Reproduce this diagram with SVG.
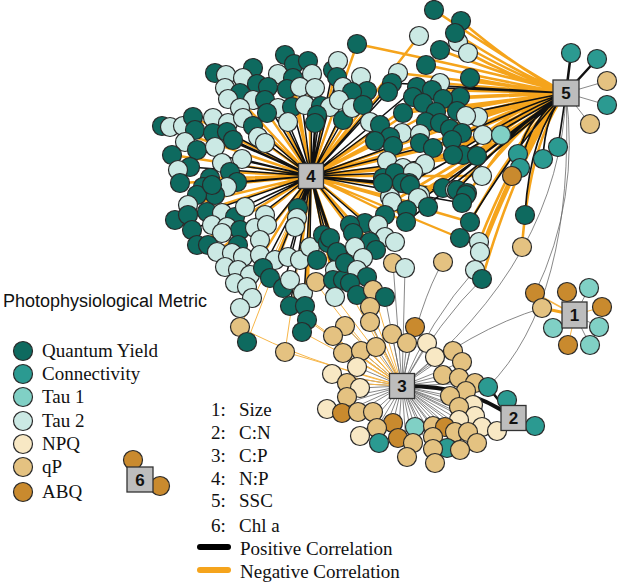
<svg xmlns="http://www.w3.org/2000/svg" width="620" height="585" viewBox="0 0 620 585">
<style>
circle{stroke:#2a2a2a;stroke-width:1.2}
.q{fill:#0e6a5f}.c{fill:#2b9a91}.t1{fill:#80d0c5}.l{fill:#cbe9e4}.np{fill:#f8e8c4}.qp{fill:#e4c281}.ab{fill:#c98a2e}
.hub rect{fill:#bdbdbd;stroke:#333;stroke-width:1.3}
.hub text{font-family:"Liberation Sans",Arial,sans-serif;font-weight:bold;font-size:17px;fill:#111;text-anchor:middle}
.e{fill:none;stroke-linecap:round}
.ok{stroke:#f5a41c}.bk{stroke:#111}.gr{stroke:#6a6a6a}.ol{stroke:#f7b649}
.lg{font-family:"Liberation Serif","Times New Roman",serif;font-size:19px;fill:#111}
</style>
<rect width="620" height="585" fill="#fff"/>
<g id="connectors">
<path class="e gr" stroke-width="0.8" d="M402 386L345 326M402 386L370 323M402 386L415 327M402 386L333 336M402 386L392 334M402 386L407 343M402 386L427 343M402 386L343 353M402 386L361 351M402 386L376 347M402 386L435 357M402 386L453 351M402 386L462 362M402 386L357 367M402 386L332 374M402 386L347 383M402 386L360 388M402 386L443 375M402 386L459 378M402 386L475 383M402 386L466 391M402 386L347 397M402 386L450 396M402 386L473 405M402 386L459 407M402 386L327 409M402 386L342 413M402 386L358 412M402 386L373 412M402 386L459 420M402 386L475 416M402 386L393 423M402 386L415 427M402 386L433 426M402 386L445 427M402 386L482 427M402 386L497 431M402 386L377 428M402 386L360 436M402 386L398 438M402 386L433 437M402 386L455 432M402 386L468 432M402 386L379 443M402 386L413 443M402 386L477 443M402 386L447 448M402 386L460 450M402 386L433 449M402 386L407 457M402 386L435 463M402 386L385 297M402 386L357 295M402 386Q420 300 443 262M402 386Q440 320 482 279M402 386Q430 320 475 270M402 386L405 268M402 386L393 263M566 93Q560 260 402 386M566 93Q580 200 535 293M566 93Q575 300 488 387M542 308Q470 330 402 386M566 93L607 81M566 93L607 105M566 93L590 124M575 315L589 288M575 315L599 327M575 315L590 345M575 315L553 328"/>
<path class="e ol" stroke-width="1" d="M402 386L333 336M402 386L343 353M402 386L332 374M402 386L347 383M402 386L361 351M402 386L370 323M402 386L345 326M402 386Q300 360 240 327M402 386L285 352M402 386L373 290M402 386L370 307M402 386Q340 320 316 282M402 386L302 332M402 386L343 280M402 386L307 320M402 386L290 306M402 386L335 297M575 315L567 292M575 315L602 307M575 315L568 345M311 176L240 327M311 176L285 352M311 176L247 342"/>
<path class="e ok" stroke-width="2.4" d="M311 176L357 44M311 176L419 36M311 176L338 61M311 176L398 73M311 176L440 83M311 176L460 97M311 176L423 103M311 176L478 117M311 176L462 133M311 176L483 135M311 176L433 148M311 176L477 156M311 176L403 168M311 176L482 176M311 176L443 188M311 176L466 195M311 176L428 207M311 176L470 222M311 176L406 222M311 176L460 238M311 176L385 237M311 176L376 250M311 176L343 280M311 176L305 306M311 176L307 320M311 176L300 260M311 176L275 260M311 176L250 275M311 176L238 270M311 176L217 252M311 176L197 245M311 176L175 220M311 176L188 205M311 176L180 183M311 176L172 155M311 176L162 126M311 176L193 117M311 176L215 73M311 176L253 68M311 176L285 55M311 176L308 61M311 176L293 78M311 176L243 78M311 176L228 99M311 176L265 143M311 176L333 280M311 176L230 172M311 176L210 178M311 176L203 187M311 176L367 91M311 176L361 77M311 176L375 141M311 176L390 137M311 176L353 233M311 176L370 242M311 176L337 252"/>
<path class="e bk" stroke-width="1.5" d="M311 176L337 77M311 176L333 70M311 176L312 74M311 176L268 87M311 176L300 87M311 176L321 106M311 176L317 115M311 176L315 123M311 176L343 120M311 176L352 92M311 176L388 92M311 176L392 83M311 176L417 87M311 176L452 140M311 176L463 155M311 176L457 190M311 176L467 193M311 176L462 203M311 176L383 183M311 176L402 183M311 176L410 185M311 176L365 223M311 176L350 225M311 176L330 238M311 176L323 235M311 176L328 243M311 176L338 255M311 176L298 208M311 176L297 218M311 176L295 227M311 176L310 247M311 176L288 257M311 176L260 240M311 176L240 230M311 176L235 217M311 176L207 212M311 176L192 230M311 176L212 185M311 176L237 182M311 176L213 133M311 176L227 132M311 176L233 140M311 176L242 159M311 176L222 163M311 176L197 150M311 176L190 167M311 176L253 126M311 176L258 137M311 176L288 122M311 176L278 108M311 176L292 107M311 176L265 100M311 176L287 89M311 176L263 268M311 176L270 278M311 176L283 288M311 176L290 306M311 176L302 332M311 176L380 125M311 176L393 146M311 176L395 173"/>
<path class="e ok" stroke-width="2.6" d="M566 93Q520 68 434 10M566 93Q520 71 461 21M566 93Q520 75 455 33M566 93Q520 78 458 42M566 93Q520 81 468 53M566 93Q520 80 440 50M566 93Q520 85 426 65M566 93Q520 88 470 78M566 93Q520 90 440 83M566 93Q520 92 432 90M566 93Q520 94 460 97M566 93Q520 95 443 99M566 93Q520 98 457 111M566 93Q520 99 436 112M566 93Q520 100 466 116M566 93Q520 100 478 117M566 93Q520 102 440 123M566 93Q520 104 450 129M566 93Q520 105 462 133M566 93Q520 106 483 135M566 93Q520 106 501 135M566 93Q520 112 463 155M566 93Q520 112 477 156M566 93Q520 118 482 176M566 93Q520 124 466 195M566 93Q520 132 470 222M566 93Q520 138 479 242M566 93Q520 141 480 252M566 93Q520 146 475 270M566 93Q520 149 482 279M566 93Q520 78 357 44M566 93Q520 87 398 73M566 93Q520 99 403 113M566 93Q520 105 420 134M566 93Q520 110 433 148M566 93Q520 114 425 164M566 93Q520 117 413 172M566 93Q520 122 455 190M566 93Q520 125 418 198M566 93Q520 126 392 202M566 93Q520 130 385 215M566 93Q530 139 522 247M566 93Q520 118 512 176"/>
<path class="e bk" stroke-width="1.7" d="M566 93Q520 91 417 87M566 93Q520 90 392 83M566 93Q520 102 426 122M566 93Q520 107 452 140M566 93Q520 112 453 155M566 93Q520 120 409 183M566 93Q520 122 443 188M566 93Q520 122 457 190M566 93Q520 128 407 210M566 93Q520 132 406 222M566 93Q520 137 460 238M566 93Q530 130 525 215M566 93Q530 116 520 168M566 93Q530 111 518 154M566 93Q545 113 543 159M566 93L558 147"/>
<path class="e bk" stroke-width="2.5" d="M566 93L571 53M566 93L597 59M513 418L488 387M513 418L507 400M513 418L535 426"/>
<path class="e bk" stroke-width="4" d="M402 386Q470 385 513 418"/>
<path class="e ok" stroke-width="3" d="M575 315L542 308"/>
<path class="e ol" stroke-width="1.5" d="M575 315L535 293"/>
</g>
<g id="nodes">
<g id="q1"><circle class="q" cx="285" cy="55" r="9.5"/></g>
<g id="q2"><circle class="q" cx="294" cy="64" r="9.5"/></g>
<g id="q3"><circle class="q" cx="308" cy="61" r="9.5"/></g>
<g id="q4"><circle class="q" cx="333" cy="70" r="9.5"/></g>
<g id="q5"><circle class="q" cx="215" cy="73" r="9.5"/></g>
<g id="l1"><circle class="l" cx="226" cy="75" r="9.5"/></g>
<g id="q6"><circle class="q" cx="253" cy="68" r="9.5"/></g>
<g id="l2"><circle class="l" cx="278" cy="74" r="9.5"/></g>
<g id="q7"><circle class="q" cx="293" cy="78" r="9.5"/></g>
<g id="l3"><circle class="l" cx="312" cy="74" r="9.5"/></g>
<g id="l4"><circle class="l" cx="338" cy="61" r="9.5"/></g>
<g id="q8"><circle class="q" cx="337" cy="77" r="9.5"/></g>
<g id="l5"><circle class="l" cx="243" cy="78" r="9.5"/></g>
<g id="q9"><circle class="q" cx="257" cy="84" r="9.5"/></g>
<g id="q10"><circle class="q" cx="268" cy="87" r="9.5"/></g>
<g id="l6"><circle class="l" cx="225" cy="88" r="9.5"/></g>
<g id="q11"><circle class="q" cx="240" cy="93" r="9.5"/></g>
<g id="q12"><circle class="q" cx="287" cy="89" r="9.5"/></g>
<g id="l7"><circle class="l" cx="300" cy="87" r="9.5"/></g>
<g id="l8"><circle class="l" cx="315" cy="88" r="9.5"/></g>
<g id="l9"><circle class="l" cx="343" cy="87" r="9.5"/></g>
<g id="l10"><circle class="l" cx="228" cy="99" r="9.5"/></g>
<g id="l11"><circle class="l" cx="253" cy="100" r="9.5"/></g>
<g id="q13"><circle class="q" cx="265" cy="100" r="9.5"/></g>
<g id="l12"><circle class="l" cx="278" cy="108" r="9.5"/></g>
<g id="q14"><circle class="q" cx="292" cy="107" r="9.5"/></g>
<g id="l13"><circle class="l" cx="305" cy="105" r="9.5"/></g>
<g id="q15"><circle class="q" cx="321" cy="106" r="9.5"/></g>
<g id="l14"><circle class="l" cx="330" cy="107" r="9.5"/></g>
<g id="l15"><circle class="l" cx="240" cy="108" r="9.5"/></g>
<g id="q16"><circle class="q" cx="267" cy="113" r="9.5"/></g>
<g id="q17"><circle class="q" cx="317" cy="115" r="9.5"/></g>
<g id="q18"><circle class="q" cx="343" cy="120" r="9.5"/></g>
<g id="l16"><circle class="l" cx="288" cy="122" r="9.5"/></g>
<g id="q19"><circle class="q" cx="315" cy="123" r="9.5"/></g>
<g id="q20"><circle class="q" cx="162" cy="126" r="9.5"/></g>
<g id="l17"><circle class="l" cx="170" cy="127" r="9.5"/></g>
<g id="l18"><circle class="l" cx="183" cy="126" r="9.5"/></g>
<g id="q21"><circle class="q" cx="193" cy="117" r="9.5"/></g>
<g id="l19"><circle class="l" cx="213" cy="118" r="9.5"/></g>
<g id="q22"><circle class="q" cx="195" cy="130" r="9.5"/></g>
<g id="l20"><circle class="l" cx="228" cy="123" r="9.5"/></g>
<g id="l21"><circle class="l" cx="243" cy="118" r="9.5"/></g>
<g id="q23"><circle class="q" cx="253" cy="126" r="9.5"/></g>
<g id="l22"><circle class="l" cx="258" cy="137" r="9.5"/></g>
<g id="l23"><circle class="l" cx="265" cy="143" r="9.5"/></g>
<g id="q24"><circle class="q" cx="213" cy="133" r="9.5"/></g>
<g id="q25"><circle class="q" cx="227" cy="132" r="9.5"/></g>
<g id="q26"><circle class="q" cx="233" cy="140" r="9.5"/></g>
<g id="l24"><circle class="l" cx="185" cy="142" r="9.5"/></g>
<g id="q27"><circle class="q" cx="197" cy="150" r="9.5"/></g>
<g id="l25"><circle class="l" cx="215" cy="147" r="9.5"/></g>
<g id="q28"><circle class="q" cx="172" cy="155" r="9.5"/></g>
<g id="q29"><circle class="q" cx="190" cy="167" r="9.5"/></g>
<g id="l26"><circle class="l" cx="178" cy="170" r="9.5"/></g>
<g id="l27"><circle class="l" cx="222" cy="163" r="9.5"/></g>
<g id="l28"><circle class="l" cx="242" cy="159" r="9.5"/></g>
<g id="q30"><circle class="q" cx="230" cy="172" r="9.5"/></g>
<g id="q31"><circle class="q" cx="210" cy="178" r="9.5"/></g>
<g id="q32"><circle class="q" cx="203" cy="187" r="9.5"/></g>
<g id="q33"><circle class="q" cx="180" cy="183" r="9.5"/></g>
<g id="q34"><circle class="q" cx="237" cy="182" r="9.5"/></g>
<g id="l29"><circle class="l" cx="227" cy="187" r="9.5"/></g>
<g id="q35"><circle class="q" cx="215" cy="195" r="9.5"/></g>
<g id="q36"><circle class="q" cx="197" cy="195" r="9.5"/></g>
<g id="q37"><circle class="q" cx="434" cy="10" r="9.5"/></g>
<g id="q38"><circle class="q" cx="461" cy="21" r="9.5"/></g>
<g id="l30"><circle class="l" cx="419" cy="36" r="9.5"/></g>
<g id="l31"><circle class="l" cx="458" cy="42" r="9.5"/></g>
<g id="q39"><circle class="q" cx="455" cy="33" r="9.5"/></g>
<g id="l32"><circle class="l" cx="468" cy="53" r="9.5"/></g>
<g id="q40"><circle class="q" cx="440" cy="50" r="9.5"/></g>
<g id="q41"><circle class="q" cx="357" cy="44" r="9.5"/></g>
<g id="q42"><circle class="q" cx="426" cy="65" r="9.5"/></g>
<g id="l33"><circle class="l" cx="398" cy="73" r="9.5"/></g>
<g id="l34"><circle class="l" cx="361" cy="77" r="9.5"/></g>
<g id="q43"><circle class="q" cx="470" cy="78" r="9.5"/></g>
<g id="l35"><circle class="l" cx="440" cy="83" r="9.5"/></g>
<g id="q44"><circle class="q" cx="392" cy="83" r="9.5"/></g>
<g id="q45"><circle class="q" cx="417" cy="87" r="9.5"/></g>
<g id="q46"><circle class="q" cx="432" cy="90" r="9.5"/></g>
<g id="q47"><circle class="q" cx="367" cy="91" r="9.5"/></g>
<g id="q48"><circle class="q" cx="352" cy="92" r="9.5"/></g>
<g id="q49"><circle class="q" cx="388" cy="92" r="9.5"/></g>
<g id="q50"><circle class="q" cx="460" cy="97" r="9.5"/></g>
<g id="l36"><circle class="l" cx="339" cy="100" r="9.5"/></g>
<g id="q51"><circle class="q" cx="413" cy="97" r="9.5"/></g>
<g id="q52"><circle class="q" cx="443" cy="99" r="9.5"/></g>
<g id="l37"><circle class="l" cx="352" cy="108" r="9.5"/></g>
<g id="q53"><circle class="q" cx="363" cy="105" r="9.5"/></g>
<g id="q54"><circle class="q" cx="423" cy="103" r="9.5"/></g>
<g id="q55"><circle class="q" cx="457" cy="111" r="9.5"/></g>
<g id="q56"><circle class="q" cx="403" cy="113" r="9.5"/></g>
<g id="q57"><circle class="q" cx="436" cy="112" r="9.5"/></g>
<g id="l38"><circle class="l" cx="478" cy="117" r="9.5"/></g>
<g id="l39"><circle class="l" cx="466" cy="116" r="9.5"/></g>
<g id="l40"><circle class="l" cx="370" cy="122" r="9.5"/></g>
<g id="q58"><circle class="q" cx="380" cy="125" r="9.5"/></g>
<g id="q59"><circle class="q" cx="426" cy="122" r="9.5"/></g>
<g id="q60"><circle class="q" cx="440" cy="123" r="9.5"/></g>
<g id="q61"><circle class="q" cx="450" cy="129" r="9.5"/></g>
<g id="q62"><circle class="q" cx="462" cy="133" r="9.5"/></g>
<g id="l41"><circle class="l" cx="483" cy="135" r="9.5"/></g>
<g id="t1a"><circle class="t1" cx="501" cy="135" r="9.5"/></g>
<g id="l42"><circle class="l" cx="402" cy="133" r="9.5"/></g>
<g id="l43"><circle class="l" cx="420" cy="134" r="9.5"/></g>
<g id="q63"><circle class="q" cx="390" cy="137" r="9.5"/></g>
<g id="q64"><circle class="q" cx="375" cy="141" r="9.5"/></g>
<g id="q65"><circle class="q" cx="393" cy="146" r="9.5"/></g>
<g id="q66"><circle class="q" cx="420" cy="143" r="9.5"/></g>
<g id="q67"><circle class="q" cx="433" cy="148" r="9.5"/></g>
<g id="q68"><circle class="q" cx="452" cy="140" r="9.5"/></g>
<g id="q69"><circle class="q" cx="463" cy="155" r="9.5"/></g>
<g id="q70"><circle class="q" cx="477" cy="156" r="9.5"/></g>
<g id="q71"><circle class="q" cx="453" cy="155" r="9.5"/></g>
<g id="l44"><circle class="l" cx="387" cy="161" r="9.5"/></g>
<g id="l45"><circle class="l" cx="403" cy="168" r="9.5"/></g>
<g id="l46"><circle class="l" cx="425" cy="164" r="9.5"/></g>
<g id="q72"><circle class="q" cx="383" cy="178" r="9.5"/></g>
<g id="q73"><circle class="q" cx="395" cy="173" r="9.5"/></g>
<g id="l47"><circle class="l" cx="413" cy="172" r="9.5"/></g>
<g id="q74"><circle class="q" cx="409" cy="183" r="9.5"/></g>
<g id="l48"><circle class="l" cx="482" cy="176" r="9.5"/></g>
<g id="c1"><circle class="c" cx="518" cy="154" r="9.5"/></g>
<g id="c2"><circle class="c" cx="520" cy="168" r="9.5"/></g>
<g id="a1"><circle class="ab" cx="512" cy="176" r="9.5"/></g>
<g id="q75"><circle class="q" cx="443" cy="188" r="9.5"/></g>
<g id="l49"><circle class="l" cx="455" cy="190" r="9.5"/></g>
<g id="q76"><circle class="q" cx="457" cy="190" r="9.5"/></g>
<g id="q77"><circle class="q" cx="467" cy="193" r="9.5"/></g>
<g id="l50"><circle class="l" cx="420" cy="195" r="9.5"/></g>
<g id="l51"><circle class="l" cx="390" cy="197" r="9.5"/></g>
<g id="c3"><circle class="c" cx="571" cy="53" r="9.5"/></g>
<g id="c4"><circle class="c" cx="597" cy="59" r="9.5"/></g>
<g id="p1"><circle class="qp" cx="607" cy="81" r="9.5"/></g>
<g id="c5"><circle class="c" cx="607" cy="105" r="9.5"/></g>
<g id="p2"><circle class="qp" cx="590" cy="124" r="9.5"/></g>
<g id="c6"><circle class="c" cx="558" cy="147" r="9.5"/></g>
<g id="c7"><circle class="c" cx="543" cy="159" r="9.5"/></g>
<g id="q78"><circle class="q" cx="212" cy="185" r="9.5"/></g>
<g id="l52"><circle class="l" cx="188" cy="205" r="9.5"/></g>
<g id="q79"><circle class="q" cx="207" cy="212" r="9.5"/></g>
<g id="q80"><circle class="q" cx="175" cy="220" r="9.5"/></g>
<g id="q81"><circle class="q" cx="188" cy="215" r="9.5"/></g>
<g id="l53"><circle class="l" cx="222" cy="213" r="9.5"/></g>
<g id="q82"><circle class="q" cx="235" cy="217" r="9.5"/></g>
<g id="l54"><circle class="l" cx="245" cy="207" r="9.5"/></g>
<g id="l55"><circle class="l" cx="265" cy="215" r="9.5"/></g>
<g id="q83"><circle class="q" cx="192" cy="230" r="9.5"/></g>
<g id="l56"><circle class="l" cx="212" cy="225" r="9.5"/></g>
<g id="l57"><circle class="l" cx="227" cy="227" r="9.5"/></g>
<g id="q84"><circle class="q" cx="240" cy="230" r="9.5"/></g>
<g id="l58"><circle class="l" cx="255" cy="228" r="9.5"/></g>
<g id="l59"><circle class="l" cx="267" cy="225" r="9.5"/></g>
<g id="l60"><circle class="l" cx="222" cy="233" r="9.5"/></g>
<g id="q85"><circle class="q" cx="197" cy="245" r="9.5"/></g>
<g id="q86"><circle class="q" cx="208" cy="245" r="9.5"/></g>
<g id="l61"><circle class="l" cx="217" cy="252" r="9.5"/></g>
<g id="q87"><circle class="q" cx="238" cy="245" r="9.5"/></g>
<g id="l62"><circle class="l" cx="260" cy="240" r="9.5"/></g>
<g id="l63"><circle class="l" cx="232" cy="253" r="9.5"/></g>
<g id="l64"><circle class="l" cx="243" cy="257" r="9.5"/></g>
<g id="l65"><circle class="l" cx="260" cy="255" r="9.5"/></g>
<g id="l66"><circle class="l" cx="275" cy="260" r="9.5"/></g>
<g id="l67"><circle class="l" cx="288" cy="257" r="9.5"/></g>
<g id="l68"><circle class="l" cx="300" cy="260" r="9.5"/></g>
<g id="l69"><circle class="l" cx="225" cy="267" r="9.5"/></g>
<g id="l70"><circle class="l" cx="238" cy="270" r="9.5"/></g>
<g id="l71"><circle class="l" cx="250" cy="275" r="9.5"/></g>
<g id="q88"><circle class="q" cx="263" cy="268" r="9.5"/></g>
<g id="q89"><circle class="q" cx="270" cy="278" r="9.5"/></g>
<g id="l72"><circle class="l" cx="235" cy="283" r="9.5"/></g>
<g id="l73"><circle class="l" cx="247" cy="287" r="9.5"/></g>
<g id="l74"><circle class="l" cx="252" cy="298" r="9.5"/></g>
<g id="l75"><circle class="l" cx="240" cy="308" r="9.5"/></g>
<g id="q90"><circle class="q" cx="283" cy="288" r="9.5"/></g>
<g id="l76"><circle class="l" cx="290" cy="280" r="9.5"/></g>
<g id="l77"><circle class="l" cx="303" cy="293" r="9.5"/></g>
<g id="q91"><circle class="q" cx="290" cy="306" r="9.5"/></g>
<g id="q92"><circle class="q" cx="305" cy="306" r="9.5"/></g>
<g id="q93"><circle class="q" cx="307" cy="320" r="9.5"/></g>
<g id="q94"><circle class="q" cx="302" cy="332" r="9.5"/></g>
<g id="q95"><circle class="q" cx="298" cy="208" r="9.5"/></g>
<g id="l78"><circle class="l" cx="297" cy="218" r="9.5"/></g>
<g id="l79"><circle class="l" cx="295" cy="227" r="9.5"/></g>
<g id="l80"><circle class="l" cx="310" cy="247" r="9.5"/></g>
<g id="p3"><circle class="qp" cx="316" cy="282" r="9.5"/></g>
<g id="q96"><circle class="q" cx="323" cy="235" r="9.5"/></g>
<g id="q97"><circle class="q" cx="328" cy="243" r="9.5"/></g>
<g id="q98"><circle class="q" cx="338" cy="255" r="9.5"/></g>
<g id="q99"><circle class="q" cx="317" cy="260" r="9.5"/></g>
<g id="l81"><circle class="l" cx="335" cy="270" r="9.5"/></g>
<g id="q100"><circle class="q" cx="333" cy="280" r="9.5"/></g>
<g id="q101"><circle class="q" cx="343" cy="280" r="9.5"/></g>
<g id="l82"><circle class="l" cx="335" cy="297" r="9.5"/></g>
<g id="p4"><circle class="qp" cx="240" cy="327" r="9.5"/></g>
<g id="q102"><circle class="q" cx="247" cy="342" r="9.5"/></g>
<g id="p5"><circle class="qp" cx="285" cy="352" r="9.5"/></g>
<g id="q103"><circle class="q" cx="383" cy="183" r="9.5"/></g>
<g id="q104"><circle class="q" cx="402" cy="183" r="9.5"/></g>
<g id="q105"><circle class="q" cx="410" cy="185" r="9.5"/></g>
<g id="q106"><circle class="q" cx="466" cy="195" r="9.5"/></g>
<g id="q107"><circle class="q" cx="462" cy="203" r="9.5"/></g>
<g id="l83"><circle class="l" cx="418" cy="198" r="9.5"/></g>
<g id="l84"><circle class="l" cx="392" cy="202" r="9.5"/></g>
<g id="q108"><circle class="q" cx="407" cy="210" r="9.5"/></g>
<g id="q109"><circle class="q" cx="428" cy="207" r="9.5"/></g>
<g id="q110"><circle class="q" cx="385" cy="215" r="9.5"/></g>
<g id="q111"><circle class="q" cx="365" cy="223" r="9.5"/></g>
<g id="q112"><circle class="q" cx="350" cy="225" r="9.5"/></g>
<g id="l85"><circle class="l" cx="378" cy="225" r="9.5"/></g>
<g id="q113"><circle class="q" cx="406" cy="222" r="9.5"/></g>
<g id="q114"><circle class="q" cx="470" cy="222" r="9.5"/></g>
<g id="q115"><circle class="q" cx="525" cy="215" r="9.5"/></g>
<g id="q116"><circle class="q" cx="353" cy="233" r="9.5"/></g>
<g id="l86"><circle class="l" cx="385" cy="237" r="9.5"/></g>
<g id="l87"><circle class="l" cx="395" cy="242" r="9.5"/></g>
<g id="q117"><circle class="q" cx="370" cy="242" r="9.5"/></g>
<g id="q118"><circle class="q" cx="460" cy="238" r="9.5"/></g>
<g id="l88"><circle class="l" cx="479" cy="242" r="9.5"/></g>
<g id="q119"><circle class="q" cx="330" cy="238" r="9.5"/></g>
<g id="q120"><circle class="q" cx="337" cy="252" r="9.5"/></g>
<g id="l89"><circle class="l" cx="355" cy="247" r="9.5"/></g>
<g id="q121"><circle class="q" cx="376" cy="250" r="9.5"/></g>
<g id="l90"><circle class="l" cx="363" cy="258" r="9.5"/></g>
<g id="l91"><circle class="l" cx="480" cy="252" r="9.5"/></g>
<g id="p6"><circle class="qp" cx="522" cy="247" r="9.5"/></g>
<g id="q122"><circle class="q" cx="345" cy="263" r="9.5"/></g>
<g id="l92"><circle class="l" cx="357" cy="270" r="9.5"/></g>
<g id="p7"><circle class="qp" cx="393" cy="263" r="9.5"/></g>
<g id="l93"><circle class="l" cx="405" cy="268" r="9.5"/></g>
<g id="p8"><circle class="qp" cx="443" cy="262" r="9.5"/></g>
<g id="l94"><circle class="l" cx="475" cy="270" r="9.5"/></g>
<g id="q123"><circle class="q" cx="482" cy="279" r="9.5"/></g>
<g id="q124"><circle class="q" cx="367" cy="277" r="9.5"/></g>
<g id="q125"><circle class="q" cx="350" cy="283" r="9.5"/></g>
<g id="q126"><circle class="q" cx="357" cy="295" r="9.5"/></g>
<g id="p9"><circle class="qp" cx="373" cy="290" r="9.5"/></g>
<g id="q127"><circle class="q" cx="385" cy="297" r="9.5"/></g>
<g id="p10"><circle class="qp" cx="370" cy="307" r="9.5"/></g>
<g id="p11"><circle class="qp" cx="370" cy="322" r="9.5"/></g>
<g id="p12"><circle class="qp" cx="345" cy="326" r="9.5"/></g>
<g id="p13"><circle class="qp" cx="333" cy="336" r="9.5"/></g>
<g id="p14"><circle class="qp" cx="392" cy="334" r="9.5"/></g>
<g id="a2"><circle class="ab" cx="415" cy="327" r="9.5"/></g>
<g id="p15"><circle class="qp" cx="407" cy="343" r="9.5"/></g>
<g id="n1"><circle class="np" cx="427" cy="343" r="9.5"/></g>
<g id="p16"><circle class="qp" cx="343" cy="353" r="9.5"/></g>
<g id="p17"><circle class="qp" cx="361" cy="351" r="9.5"/></g>
<g id="p18"><circle class="qp" cx="376" cy="347" r="9.5"/></g>
<g id="n2"><circle class="np" cx="435" cy="357" r="9.5"/></g>
<g id="p19"><circle class="qp" cx="453" cy="351" r="9.5"/></g>
<g id="p20"><circle class="qp" cx="462" cy="362" r="9.5"/></g>
<g id="n3"><circle class="np" cx="357" cy="367" r="9.5"/></g>
<g id="n4"><circle class="np" cx="332" cy="374" r="9.5"/></g>
<g id="p21"><circle class="qp" cx="347" cy="383" r="9.5"/></g>
<g id="n5"><circle class="np" cx="360" cy="388" r="9.5"/></g>
<g id="p22"><circle class="qp" cx="443" cy="375" r="9.5"/></g>
<g id="p23"><circle class="qp" cx="459" cy="378" r="9.5"/></g>
<g id="p24"><circle class="qp" cx="475" cy="383" r="9.5"/></g>
<g id="c8"><circle class="c" cx="488" cy="387" r="9.5"/></g>
<g id="p25"><circle class="qp" cx="466" cy="391" r="9.5"/></g>
<g id="p26"><circle class="qp" cx="347" cy="397" r="9.5"/></g>
<g id="p27"><circle class="qp" cx="450" cy="396" r="9.5"/></g>
<g id="n6"><circle class="np" cx="473" cy="405" r="9.5"/></g>
<g id="p28"><circle class="qp" cx="459" cy="407" r="9.5"/></g>
<g id="c9"><circle class="c" cx="507" cy="400" r="9.5"/></g>
<g id="n7"><circle class="np" cx="327" cy="409" r="9.5"/></g>
<g id="a3"><circle class="ab" cx="342" cy="413" r="9.5"/></g>
<g id="p29"><circle class="qp" cx="358" cy="412" r="9.5"/></g>
<g id="p30"><circle class="qp" cx="373" cy="412" r="9.5"/></g>
<g id="n8"><circle class="np" cx="475" cy="416" r="9.5"/></g>
<g id="n9"><circle class="np" cx="459" cy="420" r="9.5"/></g>
<g id="a4"><circle class="ab" cx="393" cy="423" r="9.5"/></g>
<g id="t1b"><circle class="t1" cx="415" cy="427" r="9.5"/></g>
<g id="p31"><circle class="qp" cx="433" cy="426" r="9.5"/></g>
<g id="a5"><circle class="ab" cx="445" cy="427" r="9.5"/></g>
<g id="n10"><circle class="np" cx="482" cy="427" r="9.5"/></g>
<g id="n11"><circle class="np" cx="497" cy="431" r="9.5"/></g>
<g id="p32"><circle class="qp" cx="377" cy="428" r="9.5"/></g>
<g id="n12"><circle class="np" cx="360" cy="436" r="9.5"/></g>
<g id="a6"><circle class="ab" cx="398" cy="438" r="9.5"/></g>
<g id="p33"><circle class="qp" cx="455" cy="432" r="9.5"/></g>
<g id="p34"><circle class="qp" cx="468" cy="432" r="9.5"/></g>
<g id="c10"><circle class="c" cx="379" cy="443" r="9.5"/></g>
<g id="p35"><circle class="qp" cx="413" cy="443" r="9.5"/></g>
<g id="p36"><circle class="qp" cx="433" cy="437" r="9.5"/></g>
<g id="p37"><circle class="qp" cx="477" cy="443" r="9.5"/></g>
<g id="c11"><circle class="c" cx="447" cy="448" r="9.5"/></g>
<g id="p38"><circle class="qp" cx="460" cy="450" r="9.5"/></g>
<g id="p39"><circle class="qp" cx="433" cy="449" r="9.5"/></g>
<g id="p40"><circle class="qp" cx="407" cy="457" r="9.5"/></g>
<g id="p41"><circle class="qp" cx="435" cy="463" r="9.5"/></g>
<g id="c12"><circle class="c" cx="535" cy="426" r="9.5"/></g>
<g id="a7"><circle class="ab" cx="535" cy="293" r="9.5"/></g>
<g id="a8"><circle class="ab" cx="567" cy="292" r="9.5"/></g>
<g id="t1c"><circle class="t1" cx="589" cy="288" r="9.5"/></g>
<g id="a9"><circle class="ab" cx="602" cy="307" r="9.5"/></g>
<g id="p42"><circle class="qp" cx="542" cy="308" r="9.5"/></g>
<g id="t1d"><circle class="t1" cx="553" cy="328" r="9.5"/></g>
<g id="t1e"><circle class="t1" cx="599" cy="327" r="9.5"/></g>
<g id="a10"><circle class="ab" cx="568" cy="345" r="9.5"/></g>
<g id="t1f"><circle class="t1" cx="590" cy="345" r="9.5"/></g>
<g id="a11"><circle class="ab" cx="133" cy="460" r="9.5"/></g>
<g id="a12"><circle class="ab" cx="160" cy="486" r="9.5"/></g>
</g>
<g id="hub4" class="hub"><rect x="298.5" y="163.5" width="25" height="25"/><text x="311" y="182">4</text></g>
<g id="hub5" class="hub"><rect x="553" y="80" width="26" height="26"/><text x="566" y="99">5</text></g>
<g id="hub3" class="hub"><rect x="389.5" y="373.5" width="25" height="25"/><text x="402" y="392">3</text></g>
<g id="hub2" class="hub"><rect x="501" y="405.5" width="25" height="25"/><text x="513.5" y="424">2</text></g>
<g id="hub1" class="hub"><rect x="562" y="302" width="25" height="26"/><text x="574.5" y="321">1</text></g>
<g id="hub6" class="hub"><rect x="127" y="467" width="26" height="25"/><text x="140" y="486">6</text></g>
<g id="legend">
<text x="3" y="307" font-family="Liberation Sans, Arial, sans-serif" font-size="18" fill="#111">Photophysiological Metric</text>
<circle class="q" cx="23" cy="351" r="9.5"/><text class="lg" x="42" y="357">Quantum Yield</text>
<circle class="c" cx="23" cy="374" r="9.5"/><text class="lg" x="42" y="380">Connectivity</text>
<circle class="t1" cx="23" cy="397" r="9.5"/><text class="lg" x="42" y="403">Tau 1</text>
<circle class="l" cx="23" cy="421" r="9.5"/><text class="lg" x="42" y="427">Tau 2</text>
<circle class="np" cx="23" cy="444" r="9.5"/><text class="lg" x="42" y="450">NPQ</text>
<circle class="qp" cx="23" cy="467" r="9.5"/><text class="lg" x="42" y="473">qP</text>
<circle class="ab" cx="23" cy="492" r="9.5"/><text class="lg" x="42" y="498">ABQ</text>
<text class="lg" x="211" y="416">1:</text><text class="lg" x="239" y="416">Size</text>
<text class="lg" x="211" y="439">2:</text><text class="lg" x="239" y="439">C:N</text>
<text class="lg" x="211" y="462">3:</text><text class="lg" x="239" y="462">C:P</text>
<text class="lg" x="211" y="485">4:</text><text class="lg" x="239" y="485">N:P</text>
<text class="lg" x="211" y="507">5:</text><text class="lg" x="239" y="507">SSC</text>
<text class="lg" x="211" y="532">6:</text><text class="lg" x="239" y="532">Chl a</text>
<line x1="200" y1="547" x2="228" y2="547" stroke="#000" stroke-width="6" stroke-linecap="round"/>
<text class="lg" x="240" y="555">Positive Correlation</text>
<line x1="200" y1="570" x2="228" y2="570" stroke="#f5a41c" stroke-width="6" stroke-linecap="round"/>
<text class="lg" x="240" y="578">Negative Correlation</text>
</g>
</svg>
